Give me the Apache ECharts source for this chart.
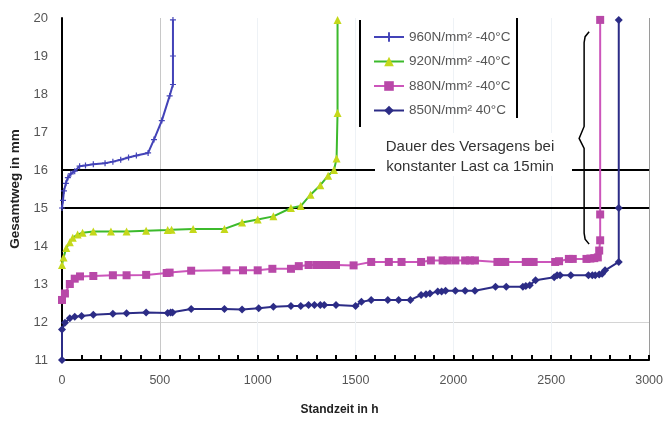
<!DOCTYPE html>
<html>
<head>
<meta charset="utf-8">
<script src="https://cdn.jsdelivr.net/npm/echarts@6/dist/echarts.min.js"></script>
<style>
html,body{margin:0;padding:0;background:#fff;}
#c{width:666px;height:421px;}
</style>
</head>
<body>
<div id="c"></div>
<script>
// ---- data ----
var seriesNames = ['960N/mm² -40°C', '920N/mm² -40°C', '880N/mm² -40°C', '850N/mm² 40°C'];
var xTicks = [0, 500, 1000, 1500, 2000, 2500, 3000];
var yTicks = [11, 12, 13, 14, 15, 16, 17, 18, 19, 20];
var refLines = [15, 16];
var annotationText = 'Dauer des Versagens bei\nkonstanter Last ca 15min';

var s960 = [[0,15.0],[5,15.2],[10,15.45],[20,15.65],[30,15.8],[45,15.9],[65,15.97],[90,16.1],[120,16.12],[160,16.15],
  [220,16.18],[260,16.22],[300,16.27],[340,16.33],[380,16.38],[440,16.45],[470,16.8],[510,17.3],[550,17.95],
  [567,18.25],[567,19.0],[567,19.95]];
var s920 = [[0,13.5],[8,13.7],[22,13.95],[40,14.1],[55,14.22],[80,14.3],[105,14.35],[160,14.38],[250,14.38],
  [330,14.38],[430,14.4],[540,14.42],[560,14.43],[670,14.45],[830,14.45],[920,14.62],[1000,14.7],[1080,14.78],
  [1170,15.0],[1220,15.05],[1270,15.35],[1320,15.6],[1360,15.85],[1390,16.0],[1403,16.3],[1408,17.5],[1408,19.95]];
var s880 = [[0,12.58],[15,12.75],[40,13.0],[65,13.14],[92,13.2],[160,13.21],[260,13.23],[330,13.23],[430,13.24],
  [535,13.29],[550,13.3],[660,13.35],[840,13.36],[925,13.36],[1000,13.36],[1075,13.4],[1170,13.4],[1210,13.47],
  [1260,13.5],[1300,13.5],[1320,13.5],[1350,13.5],[1380,13.5],[1400,13.5],[1490,13.49],[1580,13.58],[1670,13.58],
  [1735,13.58],[1835,13.58],[1885,13.62],[1945,13.62],[1970,13.62],[2010,13.62],[2060,13.62],[2085,13.62],[2110,13.62],
  [2225,13.58],[2245,13.58],[2265,13.58],[2370,13.58],[2390,13.58],[2410,13.58],[2520,13.58],[2540,13.6],
  [2590,13.66],[2610,13.66],[2680,13.66],[2700,13.67],[2720,13.68],[2738,13.7],[2745,13.88],[2750,14.15],
  [2750,14.83],[2750,19.95]];
var s850 = [[0,11],[0,11.8],[15,11.98],[40,12.1],[65,12.14],[100,12.16],[160,12.19],[260,12.22],[330,12.23],[430,12.25],
  [540,12.24],[555,12.25],[565,12.25],[660,12.34],[830,12.34],[920,12.33],[1005,12.36],[1080,12.4],[1170,12.42],
  [1220,12.42],[1260,12.45],[1290,12.45],[1320,12.45],[1340,12.45],[1400,12.45],[1500,12.42],[1530,12.53],[1580,12.58],
  [1665,12.58],[1720,12.58],[1780,12.58],[1835,12.71],[1860,12.73],[1880,12.75],[1920,12.8],[1940,12.8],[1960,12.82],
  [2010,12.82],[2060,12.82],[2110,12.82],[2215,12.93],[2270,12.93],[2355,12.93],[2370,12.95],[2390,12.97],[2420,13.1],
  [2515,13.18],[2530,13.23],[2545,13.23],[2600,13.23],[2690,13.23],[2710,13.23],[2725,13.23],[2745,13.25],[2760,13.27],
  [2775,13.36],[2845,13.58],[2845,15.0],[2845,19.95]];
// brace annotation (data coordinates)
var braceX = 2668, braceTop = 19.64, braceMid = 16.83, braceBottom = 14.05;

var chart = echarts.init(document.getElementById('c'), null, {renderer: 'canvas'});
var crossPath = 'path://M4,0H6V4H10V6H6V10H4V6H0V4H4Z';
var lineColors = ['#4343b8', '#3cba2c', '#cc55bb', '#2c2c86'];
var markColors = ['#4343b8', '#c4d81a', '#b848a8', '#2c2c86'];
var symbols = [crossPath, 'triangle', 'rect', 'diamond'];
var symSizes = [6, 8, 8, 8];
var datas = [s960, s920, s880, s850];

var series = datas.map(function (d, i) {
  var s = {
    name: seriesNames[i], type: 'line', data: d,
    symbol: symbols[i], symbolSize: symSizes[i], showSymbol: true,
    lineStyle: {color: lineColors[i], width: 2},
    itemStyle: {color: markColors[i]},
    z: 3
  };
  if (i === 0) {
    s.markLine = {
      silent: true, symbol: 'none', label: {show: false}, z: 2,
      lineStyle: {color: '#000', width: 2, type: 'solid'},
      data: refLines.map(function (v) { return {yAxis: v}; })
    };
  }
  return s;
});

// x ticks every 100, labels/grid lines only at the 500 marks
var minorStep = 100;
var xGridColors = [];
for (var v = xTicks[0]; v <= xTicks[xTicks.length - 1]; v += minorStep) {
  var c = 'rgba(0,0,0,0)';
  if (v === 500) c = '#c8c8c8';
  else if (v === 3000) c = '#9a9a9a';
  else if (v > 0 && v % 500 === 0) c = '#eef2f6';
  xGridColors.push(c);
}
var yGridColors = yTicks.map(function (v) { return v === 12 ? '#d4d4d4' : 'rgba(0,0,0,0)'; });

chart.setOption({
  animation: false,
  backgroundColor: '#fff',
  grid: {left: 62, right: 15, top: 18, bottom: 57, containLabel: false},
  legend: {
    orient: 'vertical', left: 368, top: 25, itemWidth: 30, itemHeight: 12, itemGap: 10.5,
    textStyle: {fontFamily: 'Liberation Sans', fontSize: 13.5, color: '#555'},
    data: seriesNames
  },
  xAxis: {
    type: 'value', min: xTicks[0], max: xTicks[xTicks.length - 1], interval: minorStep,
    name: 'Standzeit in h', nameLocation: 'middle', nameGap: 44,
    nameTextStyle: {fontFamily: 'Liberation Sans', fontWeight: 'bold', fontSize: 12, color: '#222', padding: [0, 32, 0, 0]},
    axisLine: {lineStyle: {color: '#000', width: 2}},
    axisTick: {inside: true, length: 5, lineStyle: {color: '#000', width: 2}},
    axisLabel: {fontFamily: 'Liberation Sans', fontSize: 12.5, color: '#555', margin: 14,
      formatter: function (val) { return xTicks.indexOf(val) >= 0 ? String(val) : ''; }},
    splitLine: {show: true, lineStyle: {color: xGridColors, width: 1}}
  },
  yAxis: {
    type: 'value', min: yTicks[0], max: yTicks[yTicks.length - 1], interval: 1,
    name: 'Gesamtweg in mm', nameLocation: 'middle', nameGap: 37, nameRotate: 90,
    nameTextStyle: {fontFamily: 'Liberation Sans', fontWeight: 'bold', fontSize: 13.5, color: '#222'},
    axisLine: {show: true, lineStyle: {color: '#000', width: 2}},
    axisTick: {show: false},
    axisLabel: {fontFamily: 'Liberation Sans', fontSize: 13, color: '#555', margin: 14},
    splitLine: {show: true, lineStyle: {color: yGridColors, width: 1}}
  },
  series: series
});

function px(x, y) { return chart.convertToPixel({gridIndex: 0}, [x, y]); }
var t = px(braceX, braceTop), m = px(braceX, braceMid), b = px(braceX, braceBottom);
var bx = t[0];
var graphics = [
  // legend box side bars
  {type: 'line', shape: {x1: 360, y1: 20, x2: 360, y2: 127}, style: {stroke: '#000', lineWidth: 2}, z: 10},
  {type: 'line', shape: {x1: 517, y1: 18, x2: 517, y2: 118}, style: {stroke: '#000', lineWidth: 2}, z: 10},
  // annotation box and text
  {type: 'rect', shape: {x: 375, y: 133, width: 197, height: 43}, style: {fill: '#fff'}, z: 20},
  {type: 'text', x: 470, y: 157, z: 21,
    style: {text: annotationText, fontFamily: 'Liberation Sans', fontSize: 15, fill: '#333',
      align: 'center', verticalAlign: 'middle', lineHeight: 20}},
  // brace
  {type: 'polyline', z: 21, shape: {points: [
    [bx + 5, t[1]], [bx + 1, t[1] + 5], [bx, t[1] + 11], [bx, m[1] - 12], [bx - 5, m[1]], [bx, m[1] + 10],
    [bx, b[1] - 11], [bx + 1, b[1] - 5], [bx + 5, b[1]]]},
    style: {stroke: '#000', lineWidth: 1.5, fill: null}}
];
chart.setOption({graphic: graphics});
</script>
</body>
</html>
